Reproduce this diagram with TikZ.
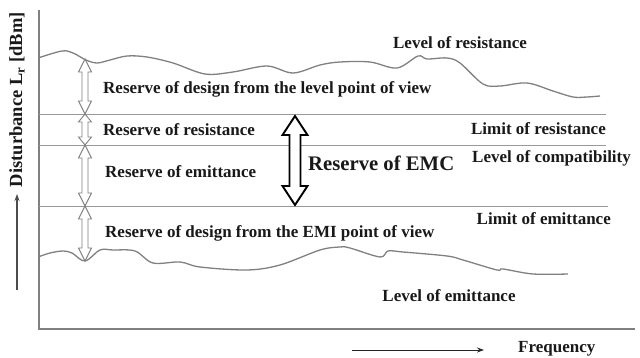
\documentclass[tikz,border=0pt]{standalone}
\usepackage{fontspec}
\setmainfont{Liberation Serif}
\usetikzlibrary{calc,arrows.meta}

% hollow two-headed arrow: top tip, bottom tip, shaft half width, head half width, head length, style
\newcommand{\twoway}[6]{%
  \draw[#6] (#1) -- ++(#4,#5) -- ++(-#4+#3,0) -- ($(#2)+(#3,-#5)$) -- ++(#4-#3,0)
    -- (#2) -- ++(-#4,-#5) -- ++(#4-#3,0) -- ($(#1)+(-#3,#5)$) -- ++(-#4+#3,0) -- cycle;}

\tikzset{
  lbl/.style={font=\fontsize{17}{19}\selectfont\bfseries, text=black!90, inner sep=0pt},
  biglbl/.style={font=\fontsize{20.7}{23}\selectfont\bfseries, text=black!90, inner sep=0pt},
  axislbl/.style={font=\fontsize{18.5}{21}\selectfont\bfseries, text=black!90, inner sep=0pt},
  axisline/.style={draw=black!50, line width=1.4pt},
  refline/.style={draw=black!40, line width=0.9pt},
  levelcurve/.style={draw=black!50, line width=1.3pt, smooth, tension=0.55},
  thinarrow/.style={draw=black!50, line width=0.9pt, fill=white, line join=miter},
  boldarrow/.style={draw=black, line width=1.9pt, fill=white, line join=miter},
}

\begin{document}
\begin{tikzpicture}[x=1pt,y=-1pt]
\useasboundingbox (0,0) rectangle (640,358);

% axes
\coordinate (ytop) at (39,10);
\coordinate (origin) at (39,329);
\coordinate (xend) at (635,329);
\draw[axisline] (ytop) -- (origin) -- (xend);

% horizontal limits
\coordinate (lr0) at (39,114);  \coordinate (lr1) at (606,114);
\coordinate (lc0) at (39,145);  \coordinate (lc1) at (606,145);
\coordinate (le0) at (39,206);  \coordinate (le1) at (608,206);
\draw[refline] (lr0) -- (lr1);
\draw[refline] (lc0) -- (lc1);
\draw[refline] (le0) -- (le1);

% level of resistance curve
\draw[levelcurve] plot coordinates {(38,58) (62,51) (73,53) (86,60) (97,63) (110,60) (127,56) (147,57)
  (173,63) (205,74) (233,72) (267,66) (293,73) (320,65) (340,62) (370,62) (397,68)
  (418,56) (427,59) (447,58) (460,63) (483,84) (500,86) (527,83) (553,91) (573,97) (587,97) (600,96)};

% level of emittance curve
\draw[levelcurve] plot coordinates {(38,257) (50,253) (63,251) (72,253) (85,261) (100,250) (113,250)
  (135,251) (153,263) (180,262) (200,267) (247,270) (280,265) (320,250) (340,247) (350,248)
  (380,257) (388,251) (403,252) (447,256) (463,260) (497,270) (503,269) (533,274) (568,274)};

% reserve arrows
\coordinate (a0) at (85,59);
\coordinate (a1) at (85,114);
\coordinate (a2) at (85,145);
\coordinate (a3) at (85,206);
\coordinate (a4) at (85,261);
\twoway{a0}{a1}{3}{6.5}{13}{thinarrow}
\twoway{a1}{a2}{3}{6.5}{8}{thinarrow}
\twoway{a2}{a3}{3}{6.5}{13}{thinarrow}
\twoway{a3}{a4}{3}{6.5}{13}{thinarrow}

% reserve of EMC
\coordinate (e0) at (295,116);
\coordinate (e1) at (295,205);
\twoway{e0}{e1}{5.5}{12.5}{19}{boldarrow}

% labels
\node[lbl] (tLR) at (460,43) {Level of resistance};
\node[lbl, anchor=west] (tRD) at (103,89) {Reserve of design from the level point of view};
\node[lbl, anchor=west] (tRR) at (103,130) {Reserve of resistance};
\node[lbl, anchor=east] (tLim) at (606,129) {Limit of resistance};
\node[lbl, anchor=west] (tLC) at (472,158) {Level of compatibility};
\node[biglbl, anchor=west] (tEMC) at (308,163) {Reserve of EMC};
\node[lbl, anchor=west] (tRE) at (105,172) {Reserve of emittance};
\node[lbl, anchor=east] (tLE) at (611,219) {Limit of emittance};
\node[lbl, anchor=west] (tRDE) at (105,233) {Reserve of design from the EMI point of view};
\node[lbl] (tLoE) at (449,296) {Level of emittance};
\node[lbl, anchor=west] (tF) at (518,349) {Frequency};
\node[axislbl, rotate=90, anchor=east] (tY) at (17,12) {Disturbance L$_{\mathbf{r}}$ [dBm]};

% direction arrows
\coordinate (f0) at (352,350);
\coordinate (f1) at (484,350);
\draw[black!85, line width=0.9pt, -{Stealth[length=7pt,width=5pt]}] (f0) -- (f1);
\coordinate (d0) at (17,290);
\coordinate (d1) at (17,194);
\draw[black!70, line width=1.1pt, -{Stealth[length=7pt,width=5pt]}] (d0) -- (d1);
\end{tikzpicture}
\end{document}
